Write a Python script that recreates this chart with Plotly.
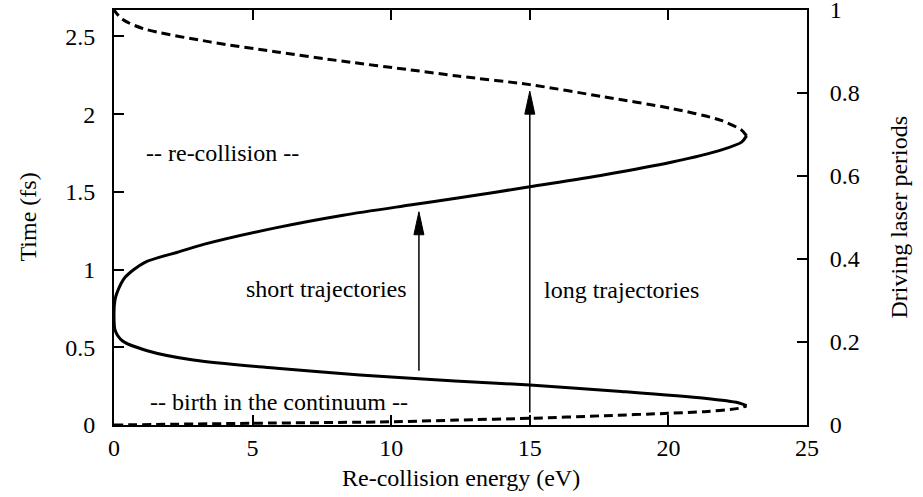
import plotly.graph_objects as go

# Short-trajectory curve (solid): from the lower tip, through the nose at E=0, to the upper tip
short_energy = [22.82, 22.52, 21.3, 18.3, 15.0, 12.3, 8.87, 5.87, 2.86, 1.2, 0.3, 0.04,
                0.0, 0.03, 0.1, 0.4, 1.1, 2.26, 3.3, 5.87, 8.27, 10.68, 12.4, 15.0, 17.7,
                20.1, 21.92, 22.64, 22.82]
short_time = [0.124, 0.143, 0.172, 0.216, 0.257, 0.283, 0.322, 0.365, 0.418, 0.478,
              0.542, 0.61, 0.71, 0.80, 0.847, 0.95, 1.045, 1.11, 1.165, 1.27, 1.35, 1.415,
              1.46, 1.533, 1.61, 1.69, 1.77, 1.82, 1.86]

# Long-trajectory re-collision (dashed, upper)
long_rec_energy = [22.82, 22.64, 21.9, 20.1, 17.7, 15.0, 12.4, 10.68, 8.27, 5.87, 3.46, 1.06, 0.3, 0.0]
long_rec_time = [1.86, 1.897, 1.96, 2.037, 2.11, 2.19, 2.245, 2.285, 2.34, 2.40, 2.465, 2.55, 2.61, 2.67]

# Long-trajectory birth (dashed, lower)
long_birth_energy = [0.0, 5.0, 10.1, 12.4, 15.0, 17.7, 20.0, 21.3, 22.52, 22.82]
long_birth_time = [0.0, 0.011, 0.021, 0.032, 0.043, 0.060, 0.075, 0.086, 0.107, 0.124]

# Arrows: x position, start time, tip time
arrow_x = [11.0, 15.0]
arrow_start = [0.349, 0.08]
arrow_end = [1.372, 2.148]

# Labels
label_text = ["-- re-collision --", "short trajectories", "long trajectories", "-- birth in the continuum --"]
label_x = [3.9, 7.68, 18.3, 5.97]
label_y = [1.75, 0.873, 0.868, 0.15]

period_fs = 2.67
x_ticks = [0, 5, 10, 15, 20, 25]
y_ticks = [0, 0.5, 1, 1.5, 2, 2.5]
y_tick_text = ["0", "0.5", "1", "1.5", "2", "2.5"]
y2_ticks = [0, 0.2, 0.4, 0.6, 0.8, 1]
y2_tick_text = ["0", "0.2", "0.4", "0.6", "0.8", "1"]

FONT = "Liberation Serif"
FS = 24

W, H = 923, 497
ML, MR, MT, MB = 114, 116, 10, 72

fig = go.Figure()
fig.add_trace(go.Scatter(x=short_energy, y=short_time, mode="lines",
                         line=dict(color="black", width=3, shape="spline", smoothing=0.8),
                         showlegend=False, hoverinfo="skip"))
fig.add_trace(go.Scatter(x=long_rec_energy, y=long_rec_time, mode="lines",
                         line=dict(color="black", width=3, dash="9px,5px", shape="spline", smoothing=0.8),
                         showlegend=False, hoverinfo="skip"))
fig.add_trace(go.Scatter(x=long_birth_energy, y=long_birth_time, mode="lines",
                         line=dict(color="black", width=3, dash="9px,5px", shape="spline", smoothing=0.8),
                         showlegend=False, hoverinfo="skip"))
fig.add_trace(go.Scatter(x=[0, 0], y=[0, 1], yaxis="y2", mode="markers", opacity=0,
                         showlegend=False, hoverinfo="skip"))

shapes = []
for ax_, s, e in zip(arrow_x, arrow_start, arrow_end):
    shapes.append(dict(type="line", xref="x", yref="y", x0=ax_, x1=ax_, y0=s, y1=e - 0.1,
                       line=dict(color="black", width=1.5)))
    shapes.append(dict(type="path", xref="x", yref="y", xsizemode="pixel", ysizemode="pixel",
                       xanchor=ax_, yanchor=e, path="M0,0 L-5,-23 L5,-23 Z",
                       fillcolor="black", line=dict(color="black", width=1)))

pw = W - ML - MR
ph = H - MT - MB
annotations = []
for t, x, y in zip(label_text, label_x, label_y):
    annotations.append(dict(text=t, x=x, y=y, xref="x", yref="y", showarrow=False,
                            xanchor="center", yanchor="middle",
                            font=dict(family=FONT, size=FS, color="black")))
annotations += [
    dict(text="Time (fs)", x=(27 - ML) / pw, y=0.5, xref="paper", yref="paper", showarrow=False,
         xanchor="center", yanchor="middle",
         textangle=-90, font=dict(family=FONT, size=FS, color="black")),
    dict(text="Driving laser periods", x=1 + (898 - (W - MR)) / pw, y=0.5, xref="paper", yref="paper",
         xanchor="center", yanchor="middle",
         showarrow=False, textangle=-90, font=dict(family=FONT, size=FS, color="black")),
    dict(text="Re-collision energy (eV)", x=0.5, y=-(478 - (H - MB)) / ph, xref="paper", yref="paper",
         xanchor="center", yanchor="middle",
         showarrow=False, font=dict(family=FONT, size=FS, color="black")),
]

fig.update_layout(
    width=W, height=H,
    margin=dict(l=ML, r=MR, t=MT, b=MB, autoexpand=False),
    paper_bgcolor="white", plot_bgcolor="white",
    font=dict(family=FONT, size=FS, color="black"),
    xaxis=dict(range=[0, 25], tickvals=x_ticks, ticks="inside", ticklen=10, tickwidth=1.5,
               tickcolor="black", showline=True, linecolor="black", linewidth=2, mirror="ticks",
               showgrid=False, zeroline=False, ticklabelstandoff=0, automargin=False,
               ticklabeloverflow="allow"),
    yaxis=dict(range=[0, period_fs], tickvals=y_ticks, ticktext=y_tick_text, ticks="inside",
               ticklen=10, tickwidth=1.5, tickcolor="black", showline=True, linecolor="black",
               linewidth=2, showgrid=False, zeroline=False, ticklabelstandoff=12, automargin=False,
               ticklabeloverflow="allow"),
    yaxis2=dict(range=[0, 1], overlaying="y", side="right", tickvals=y2_ticks, ticktext=y2_tick_text,
                ticks="inside", ticklen=10, tickwidth=1.5, tickcolor="black", showline=True,
                linecolor="black", linewidth=2, showgrid=False, zeroline=False, ticklabelstandoff=16,
                automargin=False, ticklabeloverflow="allow"),
    shapes=shapes, annotations=annotations,
)

fig.write_html("out.html", config={"displayModeBar": False},
               post_script="document.body.style.margin='0';document.body.style.overflow='hidden';")
